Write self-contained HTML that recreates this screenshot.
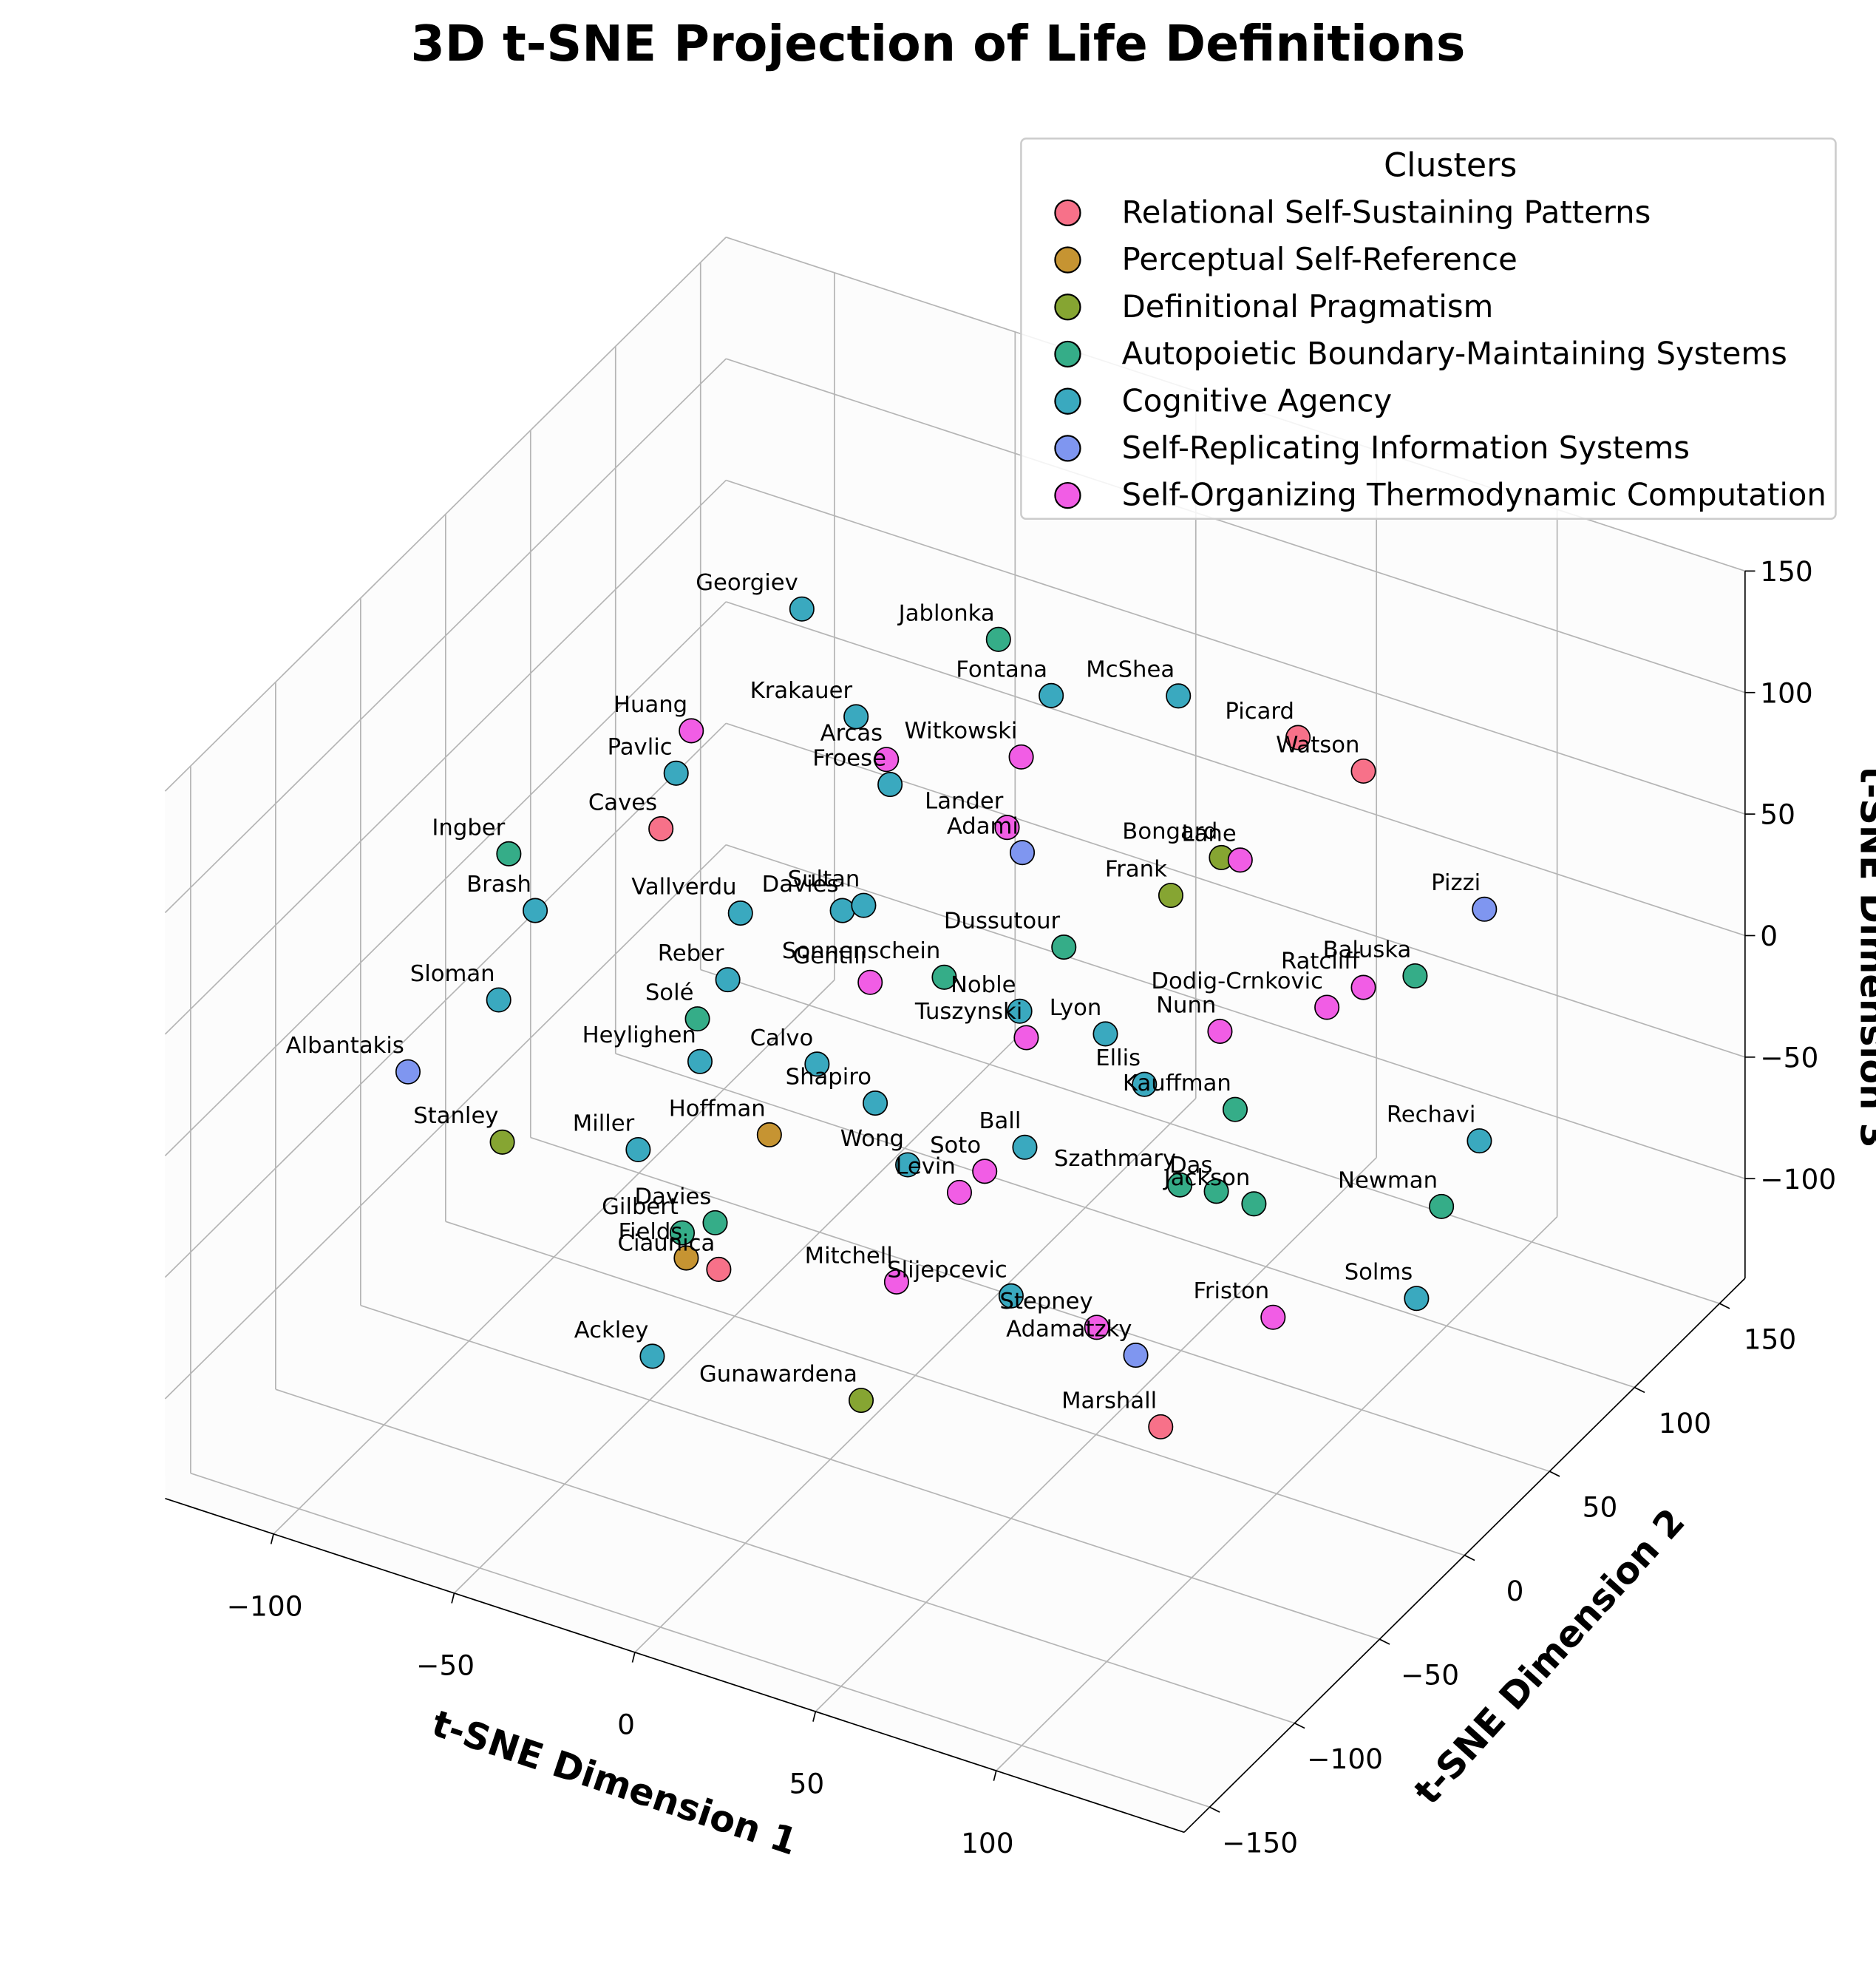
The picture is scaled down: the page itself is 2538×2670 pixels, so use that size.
<!DOCTYPE html>
<html><head><meta charset="utf-8"><style>
html,body{margin:0;padding:0;background:#fff}
svg{display:block;font-family:"DejaVu Sans","Liberation Sans",sans-serif}
</style></head><body>
<svg id="chart" width="2538" height="2670" viewBox="0 0 1490 1567.5" xmlns="http://www.w3.org/2000/svg">
<rect width="1490" height="1567.5" fill="#fff"/>
<g id="panes"></g><g id="grid"></g><g id="axes"></g><g id="marks"></g><g id="labels"></g>
<text x="745" y="48" text-anchor="middle" font-size="39" font-weight="bold">3D t-SNE Projection of Life Definitions</text>
<text transform="translate(485,1425) rotate(18.5)" text-anchor="middle" font-size="29" font-weight="bold">t-SNE Dimension 1</text>
<text transform="translate(1238,1322) rotate(-48)" text-anchor="middle" font-size="29" font-weight="bold">t-SNE Dimension 2</text>
<text transform="translate(1478,760) rotate(90)" text-anchor="middle" font-size="29" font-weight="bold">t-SNE Dimension 3</text>
<g>
<rect x="811" y="110" width="647" height="302" rx="4" fill="#fff" fill-opacity="0.85" stroke="#cccccc" stroke-width="1.5"/>
<text x="1152" y="140" text-anchor="middle" font-size="26">Clusters</text>
<g id="legend-entries"></g>
</g>
</svg>
<script>
const clusters = ["Relational Self-Sustaining Patterns","Perceptual Self-Reference","Definitional Pragmatism","Autopoietic Boundary-Maintaining Systems","Cognitive Agency","Self-Replicating Information Systems","Self-Organizing Thermodynamic Computation"];
const clusterColors = ["#f77189","#c69432","#86a532","#35ad88","#3aa9bf","#7f96f0","#f15de5"];
const names = ["Georgiev","Jablonka","Huang","Krakauer","Fontana","McShea","Picard","Watson","Pavlic","Arcas","Witkowski","Froese","Caves","Lander","Adami","Bongard","Lane","Frank","Ingber","Brash","Pizzi","Vallverdu","Davies","Sultan","Dussutour","Reber","Sonnenschein","Gentili","Baluska","Ratcliff","Dodig-Crnkovic","Sloman","Solé","Noble","Tuszynski","Lyon","Nunn","Albantakis","Heylighen","Calvo","Ellis","Shapiro","Kauffman","Stanley","Hoffman","Miller","Ball","Rechavi","Wong","Soto","Levin","Szathmary","Das","Jackson","Newman","Davies","Gilbert","Fields","Ciaunica","Mitchell","Slijepcevic","Solms","Friston","Stepney","Adamatzky","Ackley","Gunawardena","Marshall"];
const clusterIdx = [4,3,6,4,4,4,0,0,4,6,6,4,0,6,5,2,6,2,3,4,5,4,4,4,3,4,3,6,3,6,6,4,3,4,6,4,6,5,4,4,4,4,3,2,1,4,4,4,4,6,6,3,3,3,3,3,3,1,0,6,4,4,6,6,5,4,2,0];
const dim1 = [-31.4,23,-62,-16.4,37.6,72.8,105.9,124,-66.2,-8,29.3,-7,-70.4,25.4,29.6,84.7,89.9,70.7,-112.5,-105.2,157.5,-48.4,-20.2,-14.3,41.1,-51.9,8,-12.5,138.3,124,113.9,-115.3,-60.3,28.9,30.7,52.6,84.3,-140.4,-59.6,-27.2,63.4,-11.1,88.5,-114.3,-40.4,-76.7,30.3,156.1,-2.1,19.2,12.2,73.2,83.3,93.7,145.6,-55.4,-64.5,-63.4,-54.4,-5.2,26.5,138.7,99,50.2,61,-72.8,-15,67.9];
const dim2 = [0,0,0,0,0,0,0,0,0,0,0,0,0,0,0,0,0,0,0,0,0,0,0,0,0,0,0,0,0,0,0,0,0,0,0,0,0,0,0,0,0,0,0,0,0,0,0,0,0,0,0,0,0,0,0,0,0,0,0,0,0,0,0,0,0,0,0,0];
const dim3 = [159,173,94,122,157,174,173,168,74.5,108.5,127.7,98.7,49.6,96.8,88.5,113.3,114.8,90.9,18.8,-1,127.5,25.6,40.4,45.4,55.2,-3.5,26.7,14.6,90.7,79,65.9,-42.7,-23.7,22.9,12.9,25.1,41.6,-84.5,-40.9,-26.2,9.6,-34.4,11.5,-100.7,-61.7,-85.5,-32.4,31.5,-55.4,-47.7,-59.8,-27,-24.7,-24.8,-0.6,-105.2,-113.8,-123.6,-123.9,-105.1,-95.4,-41.8,-68.9,-96.8,-103,-168.6,-158.6,-129.1];
const xTicks = [-100,-50,0,50,100];
const yTicks = [-150,-100,-50,0,50,100,150];
const zTicks = [-100,-50,0,50,100,150];

const XMIN=-130,XMAX=152,YMIN=-165,YMAX=165,ZMIN=-141,ZMAX=150;
function proj(x,y,z){return [727+2.87*x+1.35*y, 820+0.94*x-1.333*y-1.93*z];}
const NS="http://www.w3.org/2000/svg";
function mk(tag,attrs,parent){const e=document.createElementNS(NS,tag);for(const k in attrs)e.setAttribute(k,attrs[k]);parent.appendChild(e);return e;}
function line(p,q,stroke,w,parent){return mk('line',{x1:p[0],y1:p[1],x2:q[0],y2:q[1],stroke:stroke,'stroke-width':w},parent);}
function poly(pts,parent){return mk('polygon',{points:pts.map(p=>p.join(',')).join(' '),fill:'#f2f2f2','fill-opacity':'0.2',stroke:'none'},parent);}
const panes=document.getElementById('panes'),grid=document.getElementById('grid'),axes=document.getElementById('axes');
let pe;
pe=poly([proj(XMIN,YMIN,ZMIN),proj(XMAX,YMIN,ZMIN),proj(XMAX,YMAX,ZMIN),proj(XMIN,YMAX,ZMIN)],panes);


pe=poly([proj(XMIN,YMIN,ZMIN),proj(XMIN,YMAX,ZMIN),proj(XMIN,YMAX,ZMAX),proj(XMIN,YMIN,ZMAX)],panes);


pe=poly([proj(XMIN,YMAX,ZMIN),proj(XMAX,YMAX,ZMIN),proj(XMAX,YMAX,ZMAX),proj(XMIN,YMAX,ZMAX)],panes);


const G='#b5b5b5';
xTicks.forEach(t=>{let l=line(proj(t,YMIN,ZMIN),proj(t,YMAX,ZMIN),G,1,grid);
 l=line(proj(t,YMAX,ZMIN),proj(t,YMAX,ZMAX),G,1,grid);});
yTicks.forEach(t=>{let l=line(proj(XMIN,t,ZMIN),proj(XMAX,t,ZMIN),G,1,grid);
 l=line(proj(XMIN,t,ZMIN),proj(XMIN,t,ZMAX),G,1,grid);});
zTicks.forEach(t=>{let l=line(proj(XMIN,YMIN,t),proj(XMIN,YMAX,t),G,1,grid);
 l=line(proj(XMIN,YMAX,t),proj(XMAX,YMAX,t),G,1,grid);});
let ax=line(proj(XMIN,YMIN,ZMIN),proj(XMAX,YMIN,ZMIN),'#000',1,axes);


ax=line(proj(XMAX,YMIN,ZMIN),proj(XMAX,YMAX,ZMIN),'#000',1,axes);


ax=line(proj(XMAX,YMAX,ZMIN),proj(XMAX,YMAX,ZMAX),'#000',1,axes);


function fmt(t){return t<0?'\u2212'+(-t):String(t);}
xTicks.forEach(t=>{const p=proj(t,YMIN,ZMIN);
 const tk=line(p,[p[0]-2,p[1]+8],'#000',1,axes);
 const e=mk('text',{x:p[0]-7,y:p[1]+65,'text-anchor':'middle','font-size':'22'},axes);e.textContent=fmt(t);
 
 });
yTicks.forEach(t=>{const p=proj(XMAX,t,ZMIN);
 const tk=line(p,[p[0]+8,p[1]+4],'#000',1,axes);
 const e=mk('text',{x:p[0]+40,y:p[1]+36,'text-anchor':'middle','font-size':'22'},axes);e.textContent=fmt(t);
 
 });
zTicks.forEach(t=>{const p=proj(XMAX,YMAX,t);
 const tk=line(p,[p[0]+8,p[1]],'#000',1,axes);
 const e=mk('text',{x:p[0]+12,y:p[1]+8,'text-anchor':'start','font-size':'22'},axes);e.textContent=fmt(t);
 
 });
const marks=document.getElementById('marks'),labels=document.getElementById('labels');
names.forEach((n,i)=>{const p=proj(dim1[i],dim2[i],dim3[i]);
 const c=mk('circle',{cx:p[0],cy:p[1],r:9.5,fill:clusterColors[clusterIdx[i]],stroke:'#000','stroke-width':1},marks);
 
 
 const t=mk('text',{x:p[0]-3,y:p[1]-15,'text-anchor':'end','font-size':'18'},labels);t.textContent=n;
 
 });
const le=document.getElementById('legend-entries');
clusters.forEach((c,i)=>{const y=169+i*37.4;
 const m=mk('circle',{cx:848,cy:y,r:10,fill:clusterColors[i],stroke:'#000','stroke-width':1.3},le);
 
 
 const t=mk('text',{x:891,y:y+8,'font-size':'24.5'},le);t.textContent=c;
 
 });
</script>
</body></html>
